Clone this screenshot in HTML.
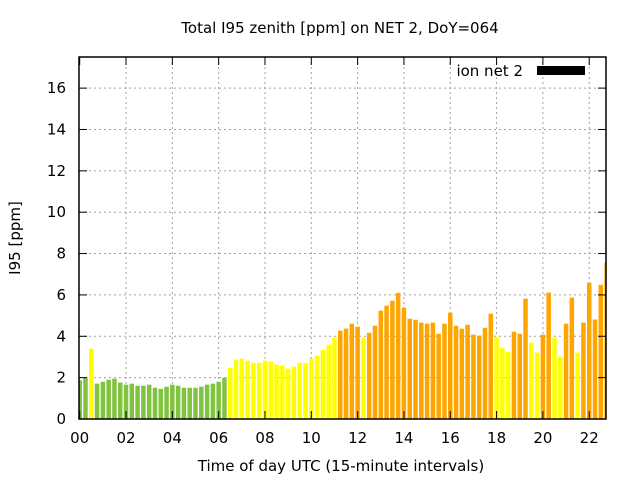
<!DOCTYPE html>
<html><head><meta charset="utf-8"><style>
html,body{margin:0;padding:0;background:#fff;}
svg{display:block;font-family:"DejaVu Sans","Liberation Sans",sans-serif;}
</style></head><body>
<svg id="s" width="640" height="480" xmlns="http://www.w3.org/2000/svg">
<defs><clipPath id="c"><rect x="79" y="57" width="527" height="362"/></clipPath></defs>
<rect width="640" height="480" fill="#fff"/>
<g id="grid" stroke="#a0a0a0" stroke-width="1" stroke-dasharray="2,3"></g>
<g id="bars" clip-path="url(#c)"></g>
<rect x="79" y="57" width="527" height="362" fill="none" stroke="#000" stroke-width="1.5"/>
<g id="ticks" stroke="#000" stroke-width="1"></g>
<g id="labels" font-size="15" fill="#000"></g>
<text x="340" y="33" font-size="15" text-anchor="middle">Total I95 zenith [ppm] on NET 2, DoY=064</text>
<text x="341" y="471" font-size="15" text-anchor="middle">Time of day UTC (15-minute intervals)</text>
<text transform="translate(20,238) rotate(-90)" font-size="15" text-anchor="middle">I95 [ppm]</text>
<text x="523" y="76" font-size="15" text-anchor="end">ion net 2</text>
<rect x="537" y="66" width="48" height="9" fill="#000"/>
</svg>
<script>
var v=[1.87,2.0,3.4,1.71,1.8,1.9,1.95,1.76,1.66,1.71,1.61,1.61,1.66,1.51,1.46,1.56,1.66,1.61,1.51,1.51,1.51,1.56,1.66,1.71,1.8,2.0,
2.48,2.87,2.92,2.82,2.72,2.72,2.82,2.77,2.63,2.58,2.43,2.53,2.72,2.72,2.92,3.06,3.35,3.59,3.93,
4.27,4.37,4.61,4.46,3.93,4.17,4.51,5.24,5.48,5.72,6.1,5.38,4.85,4.8,4.66,
4.61,4.66,4.12,4.61,5.14,4.51,4.37,4.56,4.08,4.03,4.41,5.09,3.98,3.45,3.25,4.22,4.12,5.82,3.69,3.21,4.08,6.11,3.93,3.01,4.61,5.87,3.21,4.66,6.59,4.81,6.49,7.56];
var yel=[2,49,72,73,74,78,79,82,83,86];
var ns="http://www.w3.org/2000/svg";
function el(p,t,a,txt){var e=document.createElementNS(ns,t);for(var k in a)e.setAttribute(k,a[k]);if(txt!=null)e.textContent=txt;document.getElementById(p).appendChild(e);}
var X0=79.7,S=5.79,Y0=419,U=20.68;
for(var i=0;i<v.length;i++){
 var c=i<26?(i==2?"#ffff00":"#80c341"):(i<45?"#ffff00":(yel.indexOf(i)>=0?"#ffff00":"#ffa500"));
 var h=v[i]*U;
 el("bars","rect",{x:(X0+S*i-2.25).toFixed(2),y:(Y0-h).toFixed(2),width:4.5,height:h.toFixed(2),fill:c});
}
for(var k=0;k<=16;k+=2){
 var y=Y0-k*U;
 if(k>0)el("grid","line",{x1:79,x2:606,y1:y,y2:y});
 el("ticks","line",{x1:79,x2:87,y1:y,y2:y});
 el("ticks","line",{x1:598,x2:606,y1:y,y2:y});
 el("labels","text",{x:66,y:y+5,"text-anchor":"end"},String(k));
}
for(var hh=0;hh<=22;hh+=2){
 var x=X0+hh*S*4;
 if(hh>0)el("grid","line",{x1:x,x2:x,y1:57,y2:419});
 el("ticks","line",{x1:x,x2:x,y1:419,y2:411});
 el("ticks","line",{x1:x,x2:x,y1:57,y2:65});
 el("labels","text",{x:x,y:443,"text-anchor":"middle"},(hh<10?"0":"")+hh);
}
</script>
</body></html>
